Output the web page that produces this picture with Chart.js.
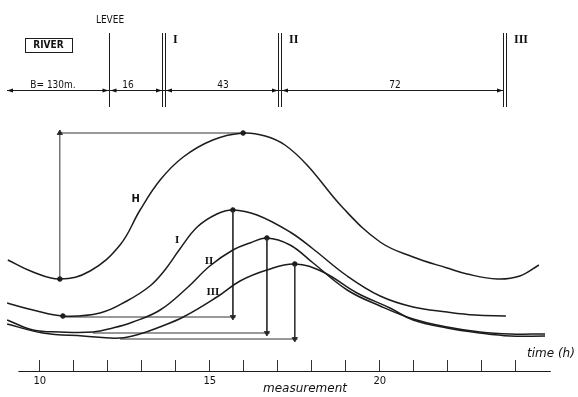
<!DOCTYPE html>
<html>
<head>
<meta charset="utf-8">
<script src="https://cdn.jsdelivr.net/npm/chart.js@4.4.0/dist/chart.umd.min.js"></script>
<style>
  html, body { margin: 0; padding: 0; background: #fff; }
  #wrap { position: relative; width: 578px; height: 397px; }
</style>
</head>
<body>
<div id="wrap"><canvas id="chart"></canvas></div>
<script>
// water level (arbitrary units) against time (h), river H and wells I, II, III
const hTime  = [9.06, 9.80, 10.59, 11.48, 12.36, 12.95, 13.54, 14.22, 15.09, 15.98, 16.63, 17.21, 17.86, 18.92, 20.01, 20.98, 21.98, 22.57, 23.45, 24.12, 24.68];
const hLevel = [5.0, 4.4, 4.05, 4.45, 5.75, 7.5, 9.0, 10.15, 11.0, 11.35, 11.2, 10.75, 9.75, 7.6, 5.9, 5.15, 4.6, 4.3, 4.05, 4.2, 4.75];

const iTime  = [9.04, 9.80, 10.68, 11.77, 12.56, 13.24, 13.68, 14.12, 14.63, 15.21, 15.68, 16.39, 17.36, 18.04, 19.04, 20.01, 20.98, 21.98, 22.80, 23.71];
const iLevel = [2.85, 2.5, 2.2, 2.35, 2.95, 3.7, 4.5, 5.55, 6.65, 7.3, 7.5, 7.25, 6.4, 5.55, 4.2, 3.2, 2.65, 2.4, 2.25, 2.2];

const iiTime  = [9.04, 9.80, 10.59, 11.56, 12.15, 12.74, 13.54, 14.33, 15.00, 15.68, 16.18, 16.68, 17.36, 18.04, 19.04, 20.01, 20.98, 21.98, 22.95, 23.84, 24.86];
const iiLevel = [2.0, 1.5, 1.4, 1.4, 1.6, 1.9, 2.5, 3.6, 4.7, 5.5, 5.85, 6.1, 5.75, 4.85, 3.5, 2.7, 2.05, 1.65, 1.4, 1.3, 1.3];

const iiiTime  = [9.04, 10.09, 11.27, 12.36, 13.04, 13.45, 14.22, 15.21, 15.89, 16.68, 17.50, 18.33, 19.33, 20.30, 20.98, 21.98, 22.95, 23.84, 24.86];
const iiiLevel = [1.8, 1.35, 1.2, 1.1, 1.35, 1.6, 2.15, 3.15, 3.95, 4.5, 4.8, 4.4, 3.35, 2.6, 2.0, 1.6, 1.35, 1.2, 1.2];

const curveNames = ['H', 'I', 'II', 'III'];
const baseLevel = [4.05, 2.15, 1.35, 1.05];   // level before the wave
const baseTime  = [10.59, 10.68, 11.56, 12.36];

const tickHours = [10, 11, 12, 13, 14, 15, 16, 17, 18, 19, 20, 21, 22, 23, 24];
const labeledHours = [10, 15, 20];

// top sketch: section widths (m) and well names
const sectionWidths = ['B= 130m.', '16', '43', '72'];
const wellNames = ['I', 'II', 'III'];

const curves = [[hTime, hLevel], [iTime, iLevel], [iiTime, iiLevel], [iiiTime, iiiLevel]];
const toPts = (t, v) => t.map((x, i) => ({x: x, y: v[i]}));
const peakOf = (t, v) => { const k = v.indexOf(Math.max(...v)); return {x: t[k], y: v[k]}; };

const ink = '#1c1c1c';
const datasets = [];

curves.forEach(([t, v], n) => {
  datasets.push({
    label: curveNames[n],
    data: toPts(t, v),
    borderColor: ink,
    borderWidth: 1.5,
    pointRadius: 0,
    tension: 0.4,
    fill: false
  });
});

// guide lines with arrows
curves.forEach(([t, v], n) => {
  const pk = peakOf(t, v);
  let vert, horiz;
  if (n === 0) {
    vert = [{x: baseTime[0], y: baseLevel[0]}, {x: baseTime[0], y: pk.y}];
    horiz = [{x: baseTime[0], y: pk.y}, {x: pk.x, y: pk.y}];
  } else {
    vert = [{x: pk.x, y: pk.y}, {x: pk.x, y: baseLevel[n]}];
    horiz = [{x: baseTime[n], y: baseLevel[n]}, {x: pk.x + 0.08, y: baseLevel[n]}];
  }
  datasets.push({
    data: vert,
    borderColor: '#333',
    backgroundColor: '#222',
    borderWidth: 1,
    pointStyle: 'triangle',
    pointRadius: [0, 3],
    rotation: n === 0 ? 0 : 180,
    fill: false
  });
  datasets.push({
    data: horiz,
    borderColor: '#333',
    borderWidth: 1,
    pointRadius: 0,
    fill: false
  });
});

// marked points
const marks = [
  {x: baseTime[0], y: baseLevel[0]}, peakOf(hTime, hLevel),
  {x: iTime[2], y: iLevel[2]}, peakOf(iTime, iLevel),
  peakOf(iiTime, iiLevel), peakOf(iiiTime, iiiLevel)
];
datasets.push({
  type: 'scatter',
  data: marks,
  pointRadius: 2.3,
  backgroundColor: ink,
  borderColor: ink
});

const sketch = {
  id: 'sketch',
  afterDraw(chart) {
    const ctx = chart.ctx;
    const xs = chart.scales.x, ys = chart.scales.y;
    ctx.save();
    ctx.strokeStyle = ink;
    ctx.fillStyle = '#111';
    ctx.lineWidth = 1;
    const seg = (x1, y1, x2, y2) => { ctx.beginPath(); ctx.moveTo(x1, y1); ctx.lineTo(x2, y2); ctx.stroke(); };
    const arrow = (x, y, dir) => {
      ctx.beginPath();
      ctx.moveTo(x, y);
      ctx.lineTo(x - dir * 6, y - 2);
      ctx.lineTo(x - dir * 6, y + 2);
      ctx.closePath();
      ctx.fill();
    };

    // time axis line under the tick marks
    const axY = Math.round(xs.top + 11) + 0.5;
    ctx.lineWidth = 1.2;
    seg(xs.getPixelForValue(9.37), axY, xs.getPixelForValue(25.03), axY);
    ctx.lineWidth = 1;

    ctx.font = 'italic 12px "DejaVu Sans"';
    ctx.textAlign = 'left';
    ctx.textBaseline = 'middle';
    ctx.fillText('time (h)', 527, 354);
    ctx.textAlign = 'center';
    ctx.fillText('measurement', 305, 389);

    // curve names
    const namePos = [[12.82, 8.05], [14.04, 6.0], [14.98, 4.95], [15.09, 3.4]];
    curveNames.forEach((nm, n) => {
      ctx.font = n === 0 ? 'bold 10px "DejaVu Sans"' : 'bold 11px "Liberation Serif"';
      ctx.fillText(nm, xs.getPixelForValue(namePos[n][0]), ys.getPixelForValue(namePos[n][1]));
    });

    // river / levee sketch
    const top = 33, bot = 107, dimY = 90.5;
    const leveeX = 109.5;
    const wellX = [164, 280, 505];
    seg(leveeX, top, leveeX, bot);
    wellX.forEach(x => { seg(x - 1.5, top, x - 1.5, bot); seg(x + 1.5, top, x + 1.5, bot); });

    seg(7, dimY, wellX[2] - 2, dimY);
    arrow(7, dimY, -1);
    arrow(leveeX - 1, dimY, 1); arrow(leveeX + 1, dimY, -1);
    wellX.forEach((x, k) => {
      arrow(x - 2, dimY, 1);
      if (k < 2) arrow(x + 2, dimY, -1);
    });

    ctx.font = '10px "DejaVu Sans Condensed", "DejaVu Sans"';
    ctx.textBaseline = 'alphabetic';
    const dimX = [53, 128, 223, 395];
    sectionWidths.forEach((s, k) => ctx.fillText(s, dimX[k], 88));

    ctx.font = '10px "DejaVu Sans Condensed", "DejaVu Sans"';
    ctx.textBaseline = 'middle';
    ctx.fillText('LEVEE', 110, 20);
    ctx.font = 'bold 10px "DejaVu Sans Condensed", "DejaVu Sans"';
    ctx.fillText('RIVER', 48.5, 45.5);
    ctx.strokeRect(25.5, 38.5, 47, 14);

    ctx.font = 'bold 12px "Liberation Serif"';
    ctx.textAlign = 'left';
    wellNames.forEach((w, k) => ctx.fillText(w, wellX[k] + 9, 40));
    ctx.restore();
  }
};

new Chart(
  document.getElementById('chart'),
  {
    type: 'line',
    data: { datasets: datasets },
    options: {
      responsive: true,
      maintainAspectRatio: false,
      animation: false,
      events: [],
      layout: {
        autoPadding: false,
        padding: { top: 120, bottom: 6, left: 0, right: 0 }
      },
      scales: {
        x: {
          type: 'linear',
          min: 8.83,
          max: 25.83,
          afterBuildTicks: scale => { scale.ticks = tickHours.map(h => ({value: h})); },
          ticks: {
            autoSkip: false,
            maxRotation: 0,
            padding: 4,
            color: '#111',
            font: { size: 10, family: '"DejaVu Sans"' },
            callback: v => labeledHours.includes(v) ? String(v) : ''
          },
          grid: {
            display: true,
            drawOnChartArea: false,
            drawTicks: true,
            tickLength: 11,
            color: '#333'
          },
          border: { display: false }
        },
        y: {
          display: false,
          min: 0,
          max: 12
        }
      },
      plugins: {
        legend: { display: false },
        tooltip: { enabled: false }
      }
    },
    plugins: [sketch]
  }
);
</script>
</body>
</html>
